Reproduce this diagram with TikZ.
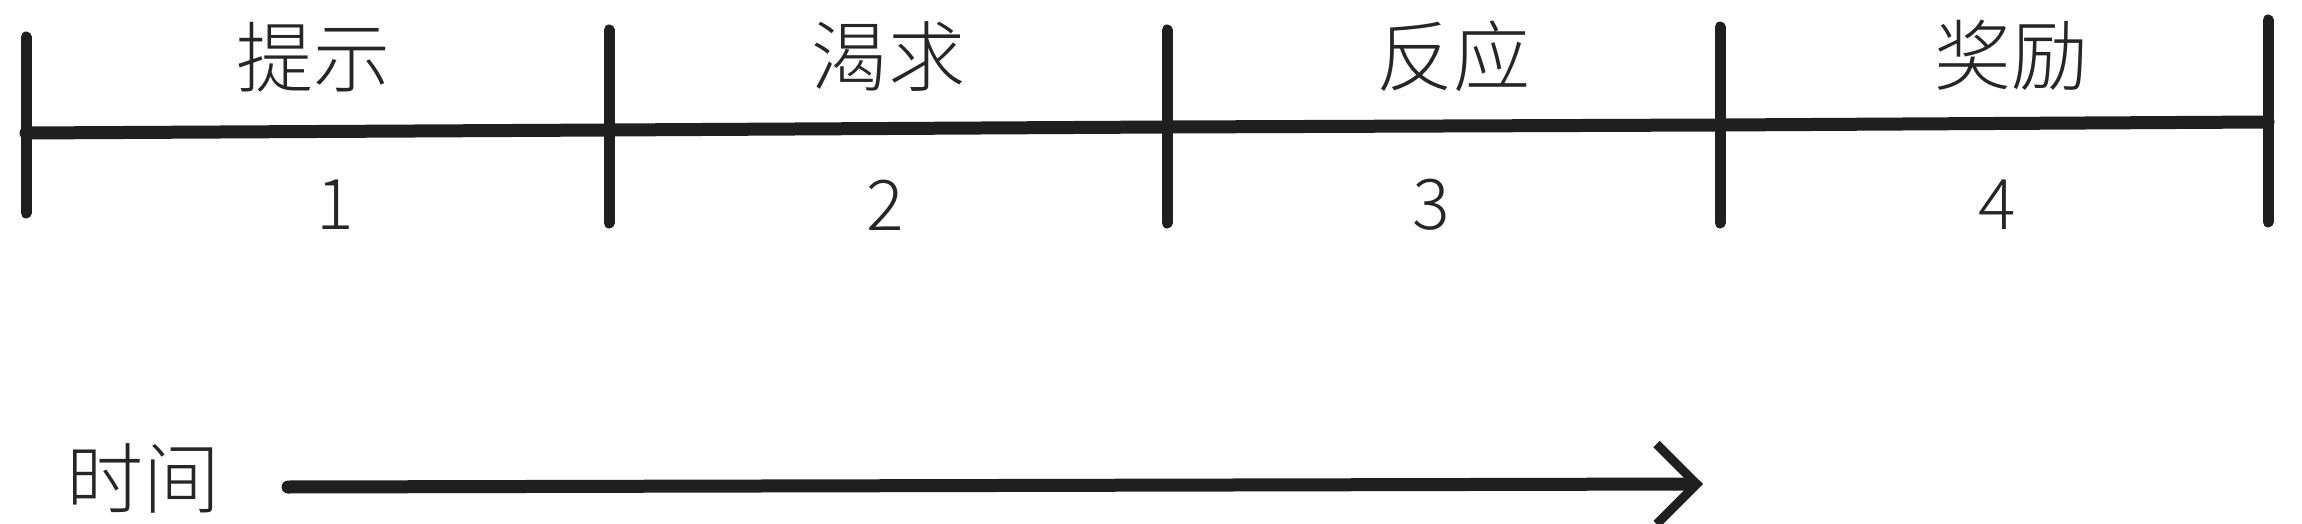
\documentclass[tikz,border=0pt]{standalone}
\usepackage{fontspec}
\setmainfont{Noto Sans CJK SC}[UprightFont={* Light}]
\usetikzlibrary{arrows.meta,calc}
\begin{document}
\begin{tikzpicture}[x=0.5pt,y=-0.5pt,
  bar/.style={line width=6.5pt,line cap=round,black!88},
  tickmark/.style={line width=5.5pt,line cap=round,black!88},
  lbl/.style={font=\fontsize{38.5}{44}\selectfont,text=black!85,inner sep=0pt},
  num/.style={font=\fontsize{35}{40}\selectfont,text=black!85,inner sep=0pt}]
\useasboundingbox (0,0) rectangle (2302,524);
% positions on the timeline
\coordinate (t0) at (26,133);
\coordinate (t1) at (609,130);
\coordinate (t2) at (1167,127);
\coordinate (t3) at (1720,125);
\coordinate (t4) at (2268,122);
\draw[bar] (t0) -- (t1) -- (t2) -- (t3) -- (t4);
\foreach \i/\up/\dn in {0/96/80,1/100/93,2/97/96,3/98/98,4/102/100}{
  \draw[tickmark] ($(t\i)+(0,-\up)$) -- ($(t\i)+(0,\dn)$);
}
\node[lbl] (l1) at (313,57) {提示};
\node[lbl] (l2) at (888,56) {渴求};
\node[lbl] (l3) at (1453,56) {反应};
\node[lbl] (l4) at (2011,55) {奖励};
\node[num] (n1) at (335,205) {1};
\node[num] (n2) at (885,205) {2};
\node[num] (n3) at (1431,205) {3};
\node[num] (n4) at (1997,205) {4};
\node[lbl] (time) at (143,478) {时间};
\coordinate (a0) at (288,487);
\coordinate (a1) at (1703,484);
\draw[bar,-{Straight Barb[length=20pt,width=40pt,line width=4.5pt]}] (a0) -- (a1);
\end{tikzpicture}
\end{document}
